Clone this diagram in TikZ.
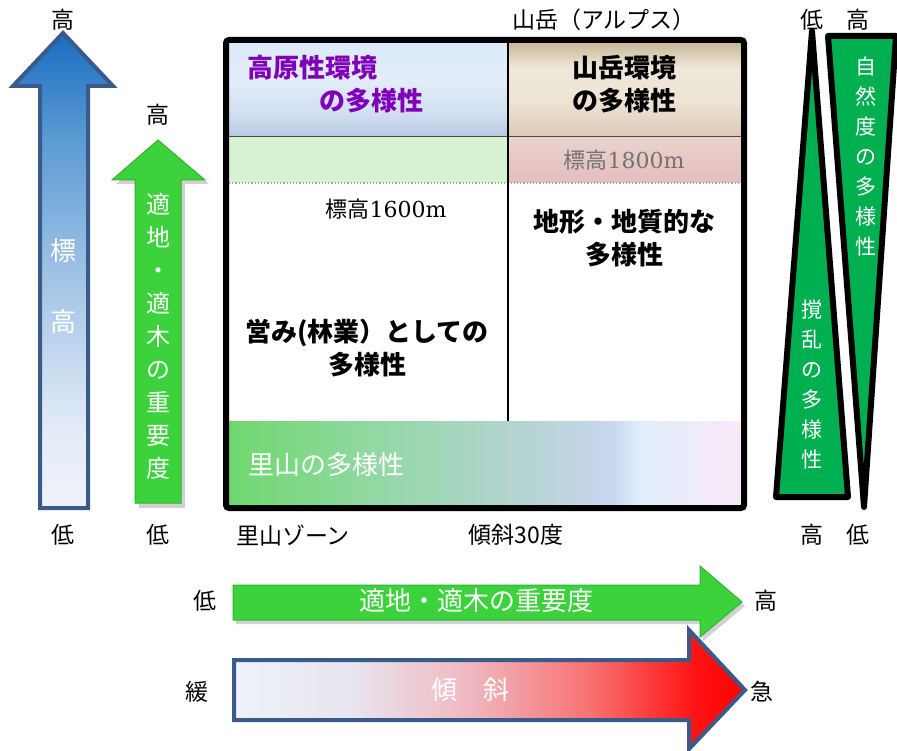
\documentclass[tikz,border=0pt]{standalone}
\usepackage{fontspec}
\newfontfamily\jp{Noto Sans CJK JP}
\newfontfamily\serifnum{DejaVu Serif}
\usetikzlibrary{shapes.geometric}
\definecolor{frameblue}{HTML}{3A5A8A}
\definecolor{bbot}{HTML}{EEF2FA}
\definecolor{bmid1}{HTML}{E4ECF8}
\definecolor{bmid}{HTML}{9EC2E4}
\definecolor{bmid2}{HTML}{5A9AD4}
\definecolor{btop}{HTML}{1A6CC0}
\pgfdeclareverticalshading{bluearrow}{100bp}{color(0bp)=(bbot); color(25bp)=(bbot); color(33bp)=(bmid1); color(50bp)=(bmid); color(64bp)=(bmid2); color(75bp)=(btop); color(100bp)=(btop)}
\definecolor{tl1}{HTML}{B6C8E2}
\definecolor{tl2}{HTML}{D2DFF0}
\definecolor{tl3}{HTML}{E2EDF9}
\definecolor{tl4}{HTML}{DDEAFA}
\pgfdeclareverticalshading{topleft}{100bp}{color(0bp)=(tl1); color(25bp)=(tl1); color(38bp)=(tl2); color(55bp)=(tl3); color(75bp)=(tl4); color(100bp)=(tl4)}
\definecolor{tr1}{HTML}{DCCAB6}
\definecolor{tr2}{HTML}{EEE5D6}
\definecolor{tr3}{HTML}{EFE7D8}
\definecolor{tr4}{HTML}{C8B898}
\pgfdeclareverticalshading{topright}{100bp}{color(0bp)=(tr1); color(25bp)=(tr1); color(45bp)=(tr2); color(62bp)=(tr3); color(75bp)=(tr4); color(100bp)=(tr4)}
\definecolor{sa1}{HTML}{6ED86E}
\definecolor{sa2}{HTML}{94D8A6}
\definecolor{sa3}{HTML}{B2D4CE}
\definecolor{sa4}{HTML}{C0D4E2}
\definecolor{sa5}{HTML}{C8D8F0}
\definecolor{sa6}{HTML}{E0EEFC}
\definecolor{sa7}{HTML}{FAE8F8}
\pgfdeclarehorizontalshading{satoyama}{100bp}{color(0bp)=(sa1); color(25bp)=(sa1); color(40bp)=(sa2); color(52bp)=(sa3); color(59bp)=(sa4); color(62.5bp)=(sa5); color(65bp)=(sa6); color(75bp)=(sa7); color(100bp)=(sa7)}
\definecolor{sl1}{HTML}{EEF2FA}
\definecolor{sl2}{HTML}{E8E6F0}
\definecolor{sl3}{HTML}{F0B8C0}
\definecolor{sl4}{HTML}{F87070}
\definecolor{sl5}{HTML}{FF1414}
\definecolor{sl6}{HTML}{FF0000}
\pgfdeclarehorizontalshading{slope}{100bp}{color(0bp)=(sl1); color(25bp)=(sl1); color(36bp)=(sl2); color(48bp)=(sl3); color(60bp)=(sl4); color(70bp)=(sl5); color(75bp)=(sl6); color(100bp)=(sl6)}
\definecolor{arrowgreen}{HTML}{3CD23C}
\definecolor{trigreen}{HTML}{00B050}
\definecolor{purp}{HTML}{8000B8}
\definecolor{row2left}{HTML}{D6F2D0}
\definecolor{row2rt}{HTML}{EAD2CC}
\definecolor{row2rb}{HTML}{E4BEBE}
\tikzset{
  lbl/.style={font=\jp\fontsize{23}{26}\selectfont, inner sep=0pt},
  bigbold/.style={font=\jp\bfseries\fontsize{26}{33}\selectfont, inner sep=0pt, align=center},
  vtext/.style={font=\jp\fontsize{24}{33}\selectfont, inner sep=0pt, align=center, text=white},
  vtri/.style={font=\jp\fontsize{21}{30}\selectfont, inner sep=0pt, align=center, text=white},
  htext/.style={font=\jp\fontsize{26}{28}\selectfont, inner sep=0pt, text=white},
  tri/.style={draw=black, line width=6pt, fill=trigreen, line join=round},
}
\begin{document}
\begin{tikzpicture}[x=1pt,y=-1pt]
\useasboundingbox (0,0) rectangle (897,751);
% ---------- blue altitude arrow ----------
\draw[frameblue, line width=4pt, shading=bluearrow]
  (40,508) -- (40,86) -- (13,86) -- (63,33) -- (113,86) -- (88,86) -- (88,508) -- cycle;
\node[lbl] (bhi) at (63,20) {高};
\node[lbl] (blo) at (63,535) {低};
\node[htext] (b1) at (63,251) {標};
\node[htext] (b2) at (63,322) {高};
% ---------- green vertical arrow ----------
\fill[black, opacity=0.18] (139,508) -- (139,184) -- (116,184) -- (162,144) -- (209,184) -- (185,184) -- (185,508) -- cycle;
\draw[arrowgreen!85!black, line width=1pt, fill=arrowgreen]
  (135,503) -- (135,180) -- (112,180) -- (158,140) -- (205,180) -- (181,180) -- (181,503) -- cycle;
\node[lbl] (ghi) at (158,115) {高};
\node[lbl] (glo) at (158,535) {低};
\node[vtext, anchor=north] (gt) at (158,193) {適\\地\\・\\適\\木\\の\\重\\要\\度};
% ---------- main box ----------
\shade[shading=topleft] (229,43) rectangle (508,137);
\shade[shading=topright] (508,43) rectangle (741,137);
\fill[row2left] (229,137) rectangle (508,183);
\shade[top color=row2rt, bottom color=row2rb] (508,137) rectangle (741,183);
\shade[shading=satoyama] (229,421) rectangle (741,505);
\draw[gray!60!black, line width=1pt] (229,137) -- (741,137);
\draw[gray!70, line width=1.2pt, dotted] (229,183) -- (741,183);
\draw[black, line width=1.2pt] (508,43) -- (508,421);
\draw[gray!40, line width=0.8pt] (508,421) -- (508,505);
\draw[black, line width=6pt, rounded corners=3pt] (226,40) rectangle (744,508);
\node[bigbold, text=purp] (k1) at (312,68) {高原性環境};
\node[bigbold, text=purp] (k2) at (371,101) {の多様性};
\node[bigbold] (m1) at (624,68) {山岳環境};
\node[bigbold] (m2) at (624,101) {の多様性};
\node[font=\fontsize{22}{24}\selectfont, inner sep=0pt, text=black!55] (e18) at (624,160) {{\jp 標高}\serifnum 1800m};
\node[font=\fontsize{22}{24}\selectfont, inner sep=0pt] (e16) at (386,209) {{\jp 標高}\serifnum 1600m};
\node[bigbold] (ch) at (624,238) {地形・地質的な\\多様性};
\node[bigbold] (in) at (367,348) {営み(林業）としての\\多様性};
\node[htext, anchor=west] (sy) at (248,465) {里山の多様性};
\node[lbl] (alp) at (604,20) {山岳（アルプス）};
\node[lbl] (sz) at (293,535) {里山ゾーン};
\node[lbl] (k30) at (516,535) {傾斜30度};
% ---------- right triangles ----------
\draw[tri] (812,31) -- (848,497) -- (776,497) -- cycle;
\draw[tri] (828,36) -- (896,36) -- (864,507) -- cycle;
\node[vtri, anchor=north] (td) at (812,300) {撹\\乱\\の\\多\\様\\性};
\node[vtri, anchor=north] (tn) at (866,57) {自\\然\\度\\の\\多\\様\\性};
\node[lbl] (t1) at (812,20) {低};
\node[lbl] (t2) at (858,20) {高};
\node[lbl] (t3) at (812,535) {高};
\node[lbl] (t4) at (858,535) {低};
% ---------- bottom green arrow ----------
\fill[black, opacity=0.18] (236,589) -- (703,589) -- (703,570) -- (745,606) -- (703,641) -- (703,624) -- (236,624) -- cycle;
\draw[arrowgreen!85!black, line width=1pt, fill=arrowgreen]
  (233,585) -- (700,585) -- (700,566) -- (742,602) -- (700,637) -- (700,620) -- (233,620) -- cycle;
\node[htext] (ga) at (476,601) {適地・適木の重要度};
\node[lbl] (gl) at (205,601) {低};
\node[lbl] (gh) at (766,601) {高};
% ---------- slope arrow ----------
\draw[frameblue, line width=4pt, shading=slope, line join=miter]
  (234,660) -- (689,660) -- (689,630) -- (745,690) -- (689,749) -- (689,720) -- (234,720) -- cycle;
\node[htext] (sl) at (470,690) {傾　斜};
\node[lbl] (sg) at (197,692) {緩};
\node[lbl] (sk) at (762,692) {急};
\end{tikzpicture}
\end{document}
